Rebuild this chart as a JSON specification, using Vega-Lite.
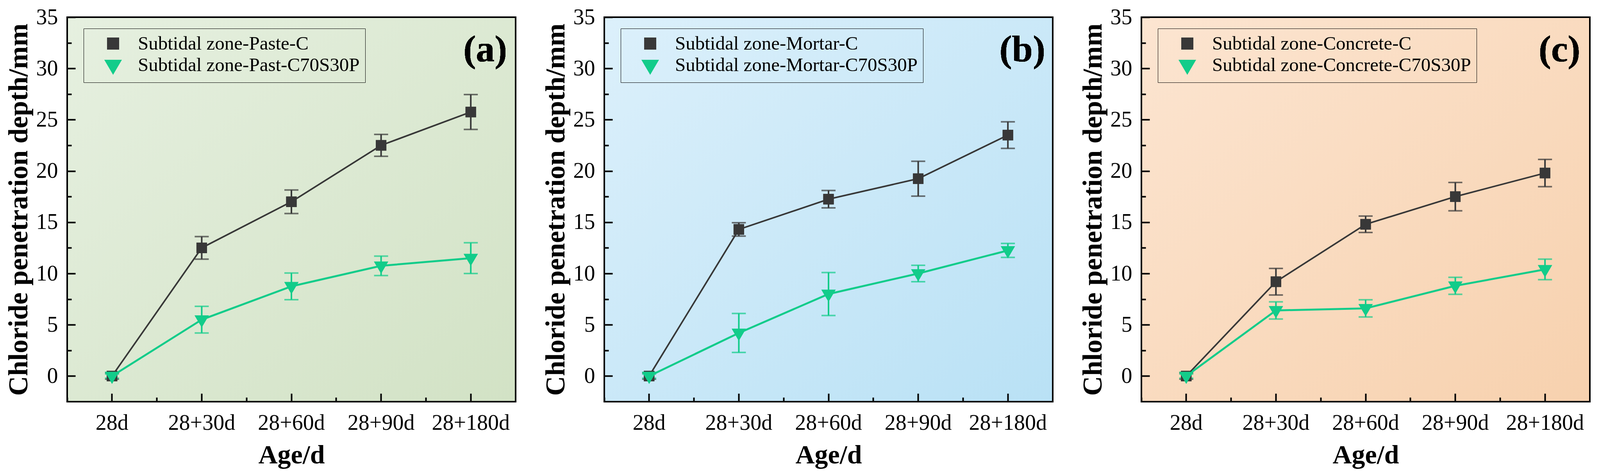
{
  "$schema": "https://vega.github.io/schema/vega-lite/v6.json",
  "background": "white",
  "padding": {"left": 10, "top": 14, "right": 5, "bottom": 4},
  "spacing": 63,
  "config": {"font": "Liberation Serif"},
  "datasets": {
    "paste": [
      {"series": "Subtidal zone-Paste-C", "age": "28d", "depth": 0, "err": 0.3},
      {"series": "Subtidal zone-Paste-C", "age": "28+30d", "depth": 12.5, "err": 1.1},
      {"series": "Subtidal zone-Paste-C", "age": "28+60d", "depth": 17.0, "err": 1.15},
      {"series": "Subtidal zone-Paste-C", "age": "28+90d", "depth": 22.5, "err": 1.07},
      {"series": "Subtidal zone-Paste-C", "age": "28+180d", "depth": 25.75, "err": 1.7},
      {"series": "Subtidal zone-Past-C70S30P", "age": "28d", "depth": 0, "err": 0.2},
      {"series": "Subtidal zone-Past-C70S30P", "age": "28+30d", "depth": 5.5, "err": 1.3},
      {"series": "Subtidal zone-Past-C70S30P", "age": "28+60d", "depth": 8.75, "err": 1.3},
      {"series": "Subtidal zone-Past-C70S30P", "age": "28+90d", "depth": 10.75, "err": 0.95},
      {"series": "Subtidal zone-Past-C70S30P", "age": "28+180d", "depth": 11.5, "err": 1.5}
    ],
    "mortar": [
      {"series": "Subtidal zone-Mortar-C", "age": "28d", "depth": 0, "err": 0.3},
      {"series": "Subtidal zone-Mortar-C", "age": "28+30d", "depth": 14.3, "err": 0.65},
      {"series": "Subtidal zone-Mortar-C", "age": "28+60d", "depth": 17.25, "err": 0.85},
      {"series": "Subtidal zone-Mortar-C", "age": "28+90d", "depth": 19.25, "err": 1.7},
      {"series": "Subtidal zone-Mortar-C", "age": "28+180d", "depth": 23.5, "err": 1.3},
      {"series": "Subtidal zone-Mortar-C70S30P", "age": "28d", "depth": 0, "err": 0.2},
      {"series": "Subtidal zone-Mortar-C70S30P", "age": "28+30d", "depth": 4.2, "err": 1.9},
      {"series": "Subtidal zone-Mortar-C70S30P", "age": "28+60d", "depth": 8.0, "err": 2.1},
      {"series": "Subtidal zone-Mortar-C70S30P", "age": "28+90d", "depth": 10.0, "err": 0.8},
      {"series": "Subtidal zone-Mortar-C70S30P", "age": "28+180d", "depth": 12.25, "err": 0.68}
    ],
    "concrete": [
      {"series": "Subtidal zone-Concrete-C", "age": "28d", "depth": 0, "err": 0.3},
      {"series": "Subtidal zone-Concrete-C", "age": "28+30d", "depth": 9.2, "err": 1.3},
      {"series": "Subtidal zone-Concrete-C", "age": "28+60d", "depth": 14.8, "err": 0.8},
      {"series": "Subtidal zone-Concrete-C", "age": "28+90d", "depth": 17.5, "err": 1.38},
      {"series": "Subtidal zone-Concrete-C", "age": "28+180d", "depth": 19.8, "err": 1.33},
      {"series": "Subtidal zone-Concrete-C70S30P", "age": "28d", "depth": 0, "err": 0.2},
      {"series": "Subtidal zone-Concrete-C70S30P", "age": "28+30d", "depth": 6.4, "err": 0.84},
      {"series": "Subtidal zone-Concrete-C70S30P", "age": "28+60d", "depth": 6.6, "err": 0.84},
      {"series": "Subtidal zone-Concrete-C70S30P", "age": "28+90d", "depth": 8.8, "err": 0.83},
      {"series": "Subtidal zone-Concrete-C70S30P", "age": "28+180d", "depth": 10.4, "err": 1.0}
    ]
  },
  "hconcat": [
    {
      "width": 1148,
      "height": 984,
      "data": {"name": "paste"},
      "view": {
        "fill": {"gradient": "linear", "x1": 0, "y1": 0, "x2": 1, "y2": 1, "stops": [{"offset": 0, "color": "#E6F0E0"}, {"offset": 1, "color": "#D2E2C5"}]},
        "stroke": "black",
        "strokeWidth": 4
      },
      "layer": [
        {
          "mark": {"type": "point", "filled": true, "opacity": 1, "size": 729},
          "encoding": {
            "x": {"field": "age", "type": "nominal", "sort": ["28d", "28+30d", "28+60d", "28+90d", "28+180d"], "scale": {"type": "band", "paddingInner": 0, "paddingOuter": 0}, "axis": null},
            "y": {"field": "depth", "type": "quantitative", "title": "Chloride penetration depth/mm", "scale": {"domain": [-2.5, 35], "nice": false, "zero": false}},
            "shape": {"field": "series", "type": "nominal", "scale": {"domain": ["Subtidal zone-Paste-C", "Subtidal zone-Past-C70S30P"], "range": ["M-1,-1H1V1H-1Z", "M-1.35,-0.81H1.35L0,1.48Z"]}, "legend": null},
            "color": {"field": "series", "type": "nominal", "scale": {"domain": ["Subtidal zone-Paste-C", "Subtidal zone-Past-C70S30P"], "range": ["#383838", "#12CC8A"]},
              "legend": {"orient": "none", "legendX": 42, "legendY": 29, "title": null, "labelFont": "Liberation Serif", "labelFontSize": 49, "labelColor": "black", "labelLimit": 0,
                "padding": 14, "rowPadding": 5, "symbolSize": 729, "symbolStrokeWidth": 4, "symbolOffset": 37, "labelOffset": 39, "strokeColor": "black",
                "encode": {
                  "legend": {"strokeWidth": {"value": 4}},
                  "symbols": {
                    "shape": {"condition": {"test": "datum.index === 0", "value": "M-4.1,0H-1.5M1.5,0H4.1M-0.85,-0.85H0.85V0.85H-0.85Z"}, "value": "M-4.1,0H-1.15M1.15,0H4.1M-1.1,-0.67H1.1L0,1.4Z"},
                    "fill": {"condition": {"test": "datum.index === 0", "value": "#383838"}, "value": "#12CC8A"},
                    "stroke": {"condition": {"test": "datum.index === 0", "value": "#383838"}, "value": "#12CC8A"},
                    "strokeWidth": {"value": 4},
                    "opacity": {"value": 1}
                  }
                }}}
          }
        },
        {
          "mark": {"type": "errorbar", "ticks": true, "size": 36, "thickness": 4},
          "encoding": {
            "x": {"field": "age", "type": "nominal", "sort": ["28d", "28+30d", "28+60d", "28+90d", "28+180d"], "scale": {"type": "band", "paddingInner": 0, "paddingOuter": 0},
              "axis": {"orient": "bottom", "bandPosition": 0, "domain": false, "grid": false, "ticks": true, "tickSize": -11, "tickWidth": 4, "tickColor": "black", "labels": false, "title": null}},
            "y": {"field": "depth", "type": "quantitative", "title": "Chloride penetration depth/mm", "scale": {"domain": [-2.5, 35], "nice": false, "zero": false}},
            "yError": {"field": "err"},
            "color": {"field": "series", "type": "nominal", "scale": {"domain": ["Subtidal zone-Paste-C", "Subtidal zone-Past-C70S30P"], "range": ["#383838", "#12CC8A"]}}
          }
        },
        {
          "mark": {"type": "line"},
          "encoding": {
            "x": {"field": "age", "type": "nominal", "sort": ["28d", "28+30d", "28+60d", "28+90d", "28+180d"], "scale": {"type": "band", "paddingInner": 0, "paddingOuter": 0},
              "axis": {"orient": "bottom", "bandPosition": 0.5, "domain": false, "grid": false, "ticks": true, "tickSize": -21, "tickWidth": 4, "tickColor": "black", "labelAngle": 0, "labelLimit": 0, "labelFont": "Liberation Serif", "labelFontSize": 56, "labelColor": "black", "labelPadding": 48, "title": "Age/d", "titleFont": "Liberation Serif", "titleFontSize": 68, "titleFontWeight": "bold", "titleColor": "black", "titlePadding": 21}},
            "y": {"field": "depth", "type": "quantitative", "title": "Chloride penetration depth/mm", "scale": {"domain": [-2.5, 35], "nice": false, "zero": false},
              "axis": {"values": [0, 2.5, 5, 7.5, 10, 12.5, 15, 17.5, 20, 22.5, 25, 27.5, 30, 32.5, 35], "domain": false, "grid": false, "ticks": true, "tickColor": "black", "tickWidth": 4,
                "tickSize": {"condition": {"test": "datum.value % 5 !== 0", "value": -11}, "value": -21},
                "labelExpr": "datum.value % 5 === 0 ? datum.label : ''", "labelOverlap": false, "labelFlush": false, "labelFont": "Liberation Serif", "labelFontSize": 56, "labelColor": "black", "labelPadding": 45,
                "titleFont": "Liberation Serif", "titleFontSize": 70, "titleFontWeight": "bold", "titleColor": "black", "titlePadding": 8}},
            "color": {"field": "series", "type": "nominal", "scale": {"domain": ["Subtidal zone-Paste-C", "Subtidal zone-Past-C70S30P"], "range": ["#383838", "#12CC8A"]}},
            "strokeWidth": {"field": "series", "type": "ordinal", "scale": {"domain": ["Subtidal zone-Paste-C", "Subtidal zone-Past-C70S30P"], "range": [4, 5]}, "legend": null}
          }
        },
        {
          "mark": {"type": "point", "filled": true, "opacity": 1, "size": 729},
          "encoding": {
            "x": {"field": "age", "type": "nominal", "sort": ["28d", "28+30d", "28+60d", "28+90d", "28+180d"], "scale": {"type": "band", "paddingInner": 0, "paddingOuter": 0}, "axis": null},
            "y": {"field": "depth", "type": "quantitative", "title": "Chloride penetration depth/mm", "scale": {"domain": [-2.5, 35], "nice": false, "zero": false}},
            "shape": {"field": "series", "type": "nominal", "scale": {"domain": ["Subtidal zone-Paste-C", "Subtidal zone-Past-C70S30P"], "range": ["M-1,-1H1V1H-1Z", "M-1.35,-0.81H1.35L0,1.48Z"]}, "legend": null},
            "color": {"field": "series", "type": "nominal", "scale": {"domain": ["Subtidal zone-Paste-C", "Subtidal zone-Past-C70S30P"], "range": ["#383838", "#12CC8A"]}}
          }
        },
        {
          "mark": {"type": "text", "font": "Liberation Serif", "fontWeight": "bold", "fontSize": 96, "align": "center", "baseline": "middle", "dx": 37, "color": "black"},
          "encoding": {
            "x": {"datum": "28+180d", "type": "nominal", "scale": {"type": "band", "paddingInner": 0, "paddingOuter": 0}, "axis": null},
            "y": {"datum": 31.8, "type": "quantitative", "title": "Chloride penetration depth/mm", "scale": {"domain": [-2.5, 35], "nice": false, "zero": false}},
            "text": {"value": "(a)"}
          }
        }
      ],
      "resolve": {"axis": {"x": "independent"}}
    },
    {
      "width": 1148,
      "height": 984,
      "data": {"name": "mortar"},
      "view": {
        "fill": {"gradient": "linear", "x1": 0, "y1": 0, "x2": 1, "y2": 1, "stops": [{"offset": 0, "color": "#DCF0FB"}, {"offset": 1, "color": "#B9E1F5"}]},
        "stroke": "black",
        "strokeWidth": 4
      },
      "layer": [
        {
          "mark": {"type": "point", "filled": true, "opacity": 1, "size": 729},
          "encoding": {
            "x": {"field": "age", "type": "nominal", "sort": ["28d", "28+30d", "28+60d", "28+90d", "28+180d"], "scale": {"type": "band", "paddingInner": 0, "paddingOuter": 0}, "axis": null},
            "y": {"field": "depth", "type": "quantitative", "title": "Chloride penetration depth/mm", "scale": {"domain": [-2.5, 35], "nice": false, "zero": false}},
            "shape": {"field": "series", "type": "nominal", "scale": {"domain": ["Subtidal zone-Mortar-C", "Subtidal zone-Mortar-C70S30P"], "range": ["M-1,-1H1V1H-1Z", "M-1.35,-0.81H1.35L0,1.48Z"]}, "legend": null},
            "color": {"field": "series", "type": "nominal", "scale": {"domain": ["Subtidal zone-Mortar-C", "Subtidal zone-Mortar-C70S30P"], "range": ["#383838", "#12CC8A"]},
              "legend": {"orient": "none", "legendX": 42, "legendY": 29, "title": null, "labelFont": "Liberation Serif", "labelFontSize": 49, "labelColor": "black", "labelLimit": 0,
                "padding": 14, "rowPadding": 5, "symbolSize": 729, "symbolStrokeWidth": 4, "symbolOffset": 37, "labelOffset": 39, "strokeColor": "black",
                "encode": {
                  "legend": {"strokeWidth": {"value": 4}},
                  "symbols": {
                    "shape": {"condition": {"test": "datum.index === 0", "value": "M-4.1,0H-1.5M1.5,0H4.1M-0.85,-0.85H0.85V0.85H-0.85Z"}, "value": "M-4.1,0H-1.15M1.15,0H4.1M-1.1,-0.67H1.1L0,1.4Z"},
                    "fill": {"condition": {"test": "datum.index === 0", "value": "#383838"}, "value": "#12CC8A"},
                    "stroke": {"condition": {"test": "datum.index === 0", "value": "#383838"}, "value": "#12CC8A"},
                    "strokeWidth": {"value": 4},
                    "opacity": {"value": 1}
                  }
                }}}
          }
        },
        {
          "mark": {"type": "errorbar", "ticks": true, "size": 36, "thickness": 4},
          "encoding": {
            "x": {"field": "age", "type": "nominal", "sort": ["28d", "28+30d", "28+60d", "28+90d", "28+180d"], "scale": {"type": "band", "paddingInner": 0, "paddingOuter": 0},
              "axis": {"orient": "bottom", "bandPosition": 0, "domain": false, "grid": false, "ticks": true, "tickSize": -11, "tickWidth": 4, "tickColor": "black", "labels": false, "title": null}},
            "y": {"field": "depth", "type": "quantitative", "title": "Chloride penetration depth/mm", "scale": {"domain": [-2.5, 35], "nice": false, "zero": false}},
            "yError": {"field": "err"},
            "color": {"field": "series", "type": "nominal", "scale": {"domain": ["Subtidal zone-Mortar-C", "Subtidal zone-Mortar-C70S30P"], "range": ["#383838", "#12CC8A"]}}
          }
        },
        {
          "mark": {"type": "line"},
          "encoding": {
            "x": {"field": "age", "type": "nominal", "sort": ["28d", "28+30d", "28+60d", "28+90d", "28+180d"], "scale": {"type": "band", "paddingInner": 0, "paddingOuter": 0},
              "axis": {"orient": "bottom", "bandPosition": 0.5, "domain": false, "grid": false, "ticks": true, "tickSize": -21, "tickWidth": 4, "tickColor": "black", "labelAngle": 0, "labelLimit": 0, "labelFont": "Liberation Serif", "labelFontSize": 56, "labelColor": "black", "labelPadding": 48, "title": "Age/d", "titleFont": "Liberation Serif", "titleFontSize": 68, "titleFontWeight": "bold", "titleColor": "black", "titlePadding": 21}},
            "y": {"field": "depth", "type": "quantitative", "title": "Chloride penetration depth/mm", "scale": {"domain": [-2.5, 35], "nice": false, "zero": false},
              "axis": {"values": [0, 2.5, 5, 7.5, 10, 12.5, 15, 17.5, 20, 22.5, 25, 27.5, 30, 32.5, 35], "domain": false, "grid": false, "ticks": true, "tickColor": "black", "tickWidth": 4,
                "tickSize": {"condition": {"test": "datum.value % 5 !== 0", "value": -11}, "value": -21},
                "labelExpr": "datum.value % 5 === 0 ? datum.label : ''", "labelOverlap": false, "labelFlush": false, "labelFont": "Liberation Serif", "labelFontSize": 56, "labelColor": "black", "labelPadding": 45,
                "titleFont": "Liberation Serif", "titleFontSize": 70, "titleFontWeight": "bold", "titleColor": "black", "titlePadding": 8}},
            "color": {"field": "series", "type": "nominal", "scale": {"domain": ["Subtidal zone-Mortar-C", "Subtidal zone-Mortar-C70S30P"], "range": ["#383838", "#12CC8A"]}},
            "strokeWidth": {"field": "series", "type": "ordinal", "scale": {"domain": ["Subtidal zone-Mortar-C", "Subtidal zone-Mortar-C70S30P"], "range": [4, 5]}, "legend": null}
          }
        },
        {
          "mark": {"type": "point", "filled": true, "opacity": 1, "size": 729},
          "encoding": {
            "x": {"field": "age", "type": "nominal", "sort": ["28d", "28+30d", "28+60d", "28+90d", "28+180d"], "scale": {"type": "band", "paddingInner": 0, "paddingOuter": 0}, "axis": null},
            "y": {"field": "depth", "type": "quantitative", "title": "Chloride penetration depth/mm", "scale": {"domain": [-2.5, 35], "nice": false, "zero": false}},
            "shape": {"field": "series", "type": "nominal", "scale": {"domain": ["Subtidal zone-Mortar-C", "Subtidal zone-Mortar-C70S30P"], "range": ["M-1,-1H1V1H-1Z", "M-1.35,-0.81H1.35L0,1.48Z"]}, "legend": null},
            "color": {"field": "series", "type": "nominal", "scale": {"domain": ["Subtidal zone-Mortar-C", "Subtidal zone-Mortar-C70S30P"], "range": ["#383838", "#12CC8A"]}}
          }
        },
        {
          "mark": {"type": "text", "font": "Liberation Serif", "fontWeight": "bold", "fontSize": 96, "align": "center", "baseline": "middle", "dx": 37, "color": "black"},
          "encoding": {
            "x": {"datum": "28+180d", "type": "nominal", "scale": {"type": "band", "paddingInner": 0, "paddingOuter": 0}, "axis": null},
            "y": {"datum": 31.8, "type": "quantitative", "title": "Chloride penetration depth/mm", "scale": {"domain": [-2.5, 35], "nice": false, "zero": false}},
            "text": {"value": "(b)"}
          }
        }
      ],
      "resolve": {"axis": {"x": "independent"}}
    },
    {
      "width": 1148,
      "height": 984,
      "data": {"name": "concrete"},
      "view": {
        "fill": {"gradient": "linear", "x1": 0, "y1": 0, "x2": 1, "y2": 1, "stops": [{"offset": 0, "color": "#FCE5D1"}, {"offset": 1, "color": "#F7D1AE"}]},
        "stroke": "black",
        "strokeWidth": 4
      },
      "layer": [
        {
          "mark": {"type": "point", "filled": true, "opacity": 1, "size": 729},
          "encoding": {
            "x": {"field": "age", "type": "nominal", "sort": ["28d", "28+30d", "28+60d", "28+90d", "28+180d"], "scale": {"type": "band", "paddingInner": 0, "paddingOuter": 0}, "axis": null},
            "y": {"field": "depth", "type": "quantitative", "title": "Chloride penetration depth/mm", "scale": {"domain": [-2.5, 35], "nice": false, "zero": false}},
            "shape": {"field": "series", "type": "nominal", "scale": {"domain": ["Subtidal zone-Concrete-C", "Subtidal zone-Concrete-C70S30P"], "range": ["M-1,-1H1V1H-1Z", "M-1.35,-0.81H1.35L0,1.48Z"]}, "legend": null},
            "color": {"field": "series", "type": "nominal", "scale": {"domain": ["Subtidal zone-Concrete-C", "Subtidal zone-Concrete-C70S30P"], "range": ["#383838", "#12CC8A"]},
              "legend": {"orient": "none", "legendX": 42, "legendY": 29, "title": null, "labelFont": "Liberation Serif", "labelFontSize": 49, "labelColor": "black", "labelLimit": 0,
                "padding": 14, "rowPadding": 5, "symbolSize": 729, "symbolStrokeWidth": 4, "symbolOffset": 37, "labelOffset": 39, "strokeColor": "black",
                "encode": {
                  "legend": {"strokeWidth": {"value": 4}},
                  "symbols": {
                    "shape": {"condition": {"test": "datum.index === 0", "value": "M-4.1,0H-1.5M1.5,0H4.1M-0.85,-0.85H0.85V0.85H-0.85Z"}, "value": "M-4.1,0H-1.15M1.15,0H4.1M-1.1,-0.67H1.1L0,1.4Z"},
                    "fill": {"condition": {"test": "datum.index === 0", "value": "#383838"}, "value": "#12CC8A"},
                    "stroke": {"condition": {"test": "datum.index === 0", "value": "#383838"}, "value": "#12CC8A"},
                    "strokeWidth": {"value": 4},
                    "opacity": {"value": 1}
                  }
                }}}
          }
        },
        {
          "mark": {"type": "errorbar", "ticks": true, "size": 36, "thickness": 4},
          "encoding": {
            "x": {"field": "age", "type": "nominal", "sort": ["28d", "28+30d", "28+60d", "28+90d", "28+180d"], "scale": {"type": "band", "paddingInner": 0, "paddingOuter": 0},
              "axis": {"orient": "bottom", "bandPosition": 0, "domain": false, "grid": false, "ticks": true, "tickSize": -11, "tickWidth": 4, "tickColor": "black", "labels": false, "title": null}},
            "y": {"field": "depth", "type": "quantitative", "title": "Chloride penetration depth/mm", "scale": {"domain": [-2.5, 35], "nice": false, "zero": false}},
            "yError": {"field": "err"},
            "color": {"field": "series", "type": "nominal", "scale": {"domain": ["Subtidal zone-Concrete-C", "Subtidal zone-Concrete-C70S30P"], "range": ["#383838", "#12CC8A"]}}
          }
        },
        {
          "mark": {"type": "line"},
          "encoding": {
            "x": {"field": "age", "type": "nominal", "sort": ["28d", "28+30d", "28+60d", "28+90d", "28+180d"], "scale": {"type": "band", "paddingInner": 0, "paddingOuter": 0},
              "axis": {"orient": "bottom", "bandPosition": 0.5, "domain": false, "grid": false, "ticks": true, "tickSize": -21, "tickWidth": 4, "tickColor": "black", "labelAngle": 0, "labelLimit": 0, "labelFont": "Liberation Serif", "labelFontSize": 56, "labelColor": "black", "labelPadding": 48, "title": "Age/d", "titleFont": "Liberation Serif", "titleFontSize": 68, "titleFontWeight": "bold", "titleColor": "black", "titlePadding": 21}},
            "y": {"field": "depth", "type": "quantitative", "title": "Chloride penetration depth/mm", "scale": {"domain": [-2.5, 35], "nice": false, "zero": false},
              "axis": {"values": [0, 2.5, 5, 7.5, 10, 12.5, 15, 17.5, 20, 22.5, 25, 27.5, 30, 32.5, 35], "domain": false, "grid": false, "ticks": true, "tickColor": "black", "tickWidth": 4,
                "tickSize": {"condition": {"test": "datum.value % 5 !== 0", "value": -11}, "value": -21},
                "labelExpr": "datum.value % 5 === 0 ? datum.label : ''", "labelOverlap": false, "labelFlush": false, "labelFont": "Liberation Serif", "labelFontSize": 56, "labelColor": "black", "labelPadding": 45,
                "titleFont": "Liberation Serif", "titleFontSize": 70, "titleFontWeight": "bold", "titleColor": "black", "titlePadding": 8}},
            "color": {"field": "series", "type": "nominal", "scale": {"domain": ["Subtidal zone-Concrete-C", "Subtidal zone-Concrete-C70S30P"], "range": ["#383838", "#12CC8A"]}},
            "strokeWidth": {"field": "series", "type": "ordinal", "scale": {"domain": ["Subtidal zone-Concrete-C", "Subtidal zone-Concrete-C70S30P"], "range": [4, 5]}, "legend": null}
          }
        },
        {
          "mark": {"type": "point", "filled": true, "opacity": 1, "size": 729},
          "encoding": {
            "x": {"field": "age", "type": "nominal", "sort": ["28d", "28+30d", "28+60d", "28+90d", "28+180d"], "scale": {"type": "band", "paddingInner": 0, "paddingOuter": 0}, "axis": null},
            "y": {"field": "depth", "type": "quantitative", "title": "Chloride penetration depth/mm", "scale": {"domain": [-2.5, 35], "nice": false, "zero": false}},
            "shape": {"field": "series", "type": "nominal", "scale": {"domain": ["Subtidal zone-Concrete-C", "Subtidal zone-Concrete-C70S30P"], "range": ["M-1,-1H1V1H-1Z", "M-1.35,-0.81H1.35L0,1.48Z"]}, "legend": null},
            "color": {"field": "series", "type": "nominal", "scale": {"domain": ["Subtidal zone-Concrete-C", "Subtidal zone-Concrete-C70S30P"], "range": ["#383838", "#12CC8A"]}}
          }
        },
        {
          "mark": {"type": "text", "font": "Liberation Serif", "fontWeight": "bold", "fontSize": 96, "align": "center", "baseline": "middle", "dx": 37, "color": "black"},
          "encoding": {
            "x": {"datum": "28+180d", "type": "nominal", "scale": {"type": "band", "paddingInner": 0, "paddingOuter": 0}, "axis": null},
            "y": {"datum": 31.8, "type": "quantitative", "title": "Chloride penetration depth/mm", "scale": {"domain": [-2.5, 35], "nice": false, "zero": false}},
            "text": {"value": "(c)"}
          }
        }
      ],
      "resolve": {"axis": {"x": "independent"}}
    }
  ],
  "resolve": {"scale": {"color": "independent", "shape": "independent", "strokeWidth": "independent"}}
}
